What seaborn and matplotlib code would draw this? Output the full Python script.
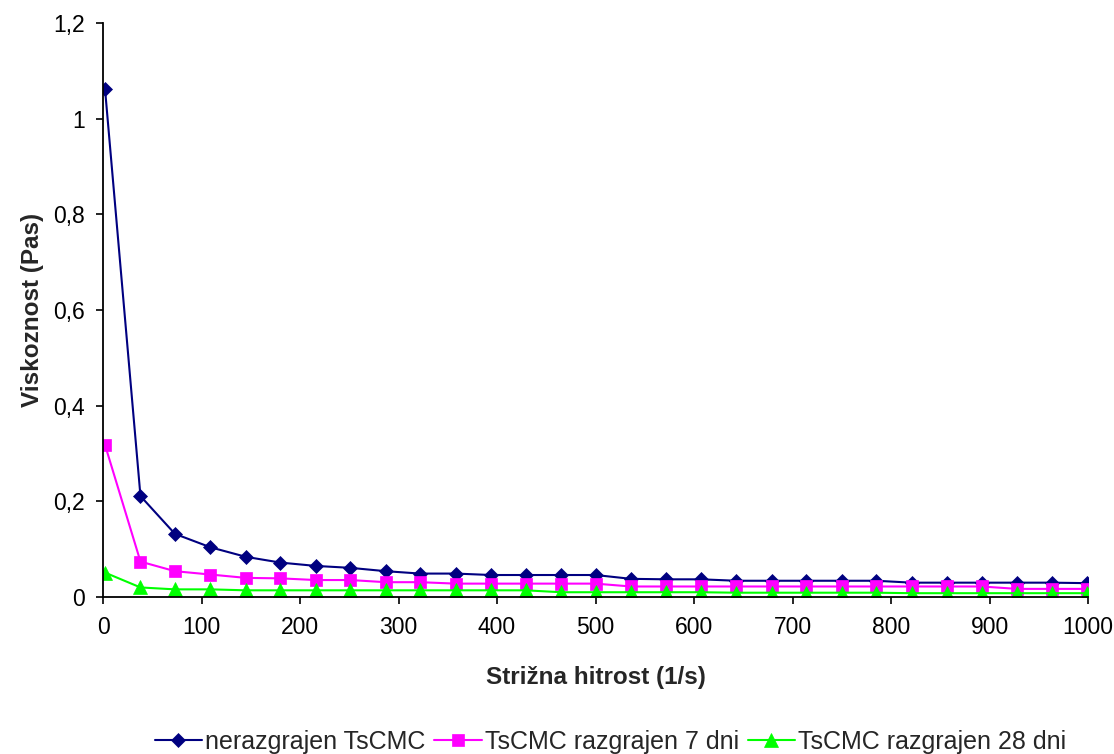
import numpy as np
import pandas as pd
import matplotlib
matplotlib.use("Agg")
import matplotlib.pyplot as plt
from matplotlib.ticker import FuncFormatter, MultipleLocator
import seaborn as sns

# Shear rate (1/s)
shear_rate = [2, 38, 73, 109, 145, 180, 216, 251, 287, 322, 358, 394, 429, 465, 500,
              536, 572, 607, 643, 679, 714, 750, 785, 821, 857, 892, 928, 963, 999]

# Viscosity (Pa s) for each sample
visc_fresh = [1.062, 0.211, 0.132, 0.104, 0.084, 0.072, 0.065, 0.061, 0.054, 0.049,
              0.049, 0.046, 0.046, 0.046, 0.046, 0.038, 0.037, 0.037, 0.034, 0.034,
              0.034, 0.034, 0.034, 0.030, 0.030, 0.030, 0.030, 0.030, 0.029]
visc_7d = [0.318, 0.074, 0.054, 0.047, 0.040, 0.039, 0.0355, 0.0355, 0.031, 0.031,
           0.028, 0.028, 0.028, 0.028, 0.028, 0.022, 0.022, 0.022, 0.022, 0.022,
           0.022, 0.022, 0.022, 0.022, 0.022, 0.022, 0.017, 0.017, 0.017]
visc_28d = [0.051, 0.020, 0.016, 0.016, 0.014, 0.014, 0.014, 0.014, 0.014, 0.014,
            0.014, 0.014, 0.014, 0.010, 0.010, 0.010, 0.010, 0.010, 0.009, 0.009,
            0.009, 0.009, 0.009, 0.008, 0.008, 0.008, 0.008, 0.008, 0.008]

series_names = ["nerazgrajen TsCMC", "TsCMC razgrajen 7 dni", "TsCMC razgrajen 28 dni"]
series_colors = ["#000080", "#FF00FF", "#00FF00"]
series_markers = ["D", "s", "^"]
series_msize = [7.5, 8, 9.5]

x_label = "Strižna hitrost (1/s)"
y_label = "Viskoznost (Pas)"

sns.set_style("white")
plt.rcParams["font.family"] = ["Liberation Sans", "DejaVu Sans"]

frames = []
for name, vals in zip(series_names, [visc_fresh, visc_7d, visc_28d]):
    frames.append(pd.DataFrame({"x": shear_rate, "y": vals, "sample": name}))
df = pd.concat(frames, ignore_index=True)

fig = plt.figure(figsize=(11.14, 7.54), dpi=100)
ax = fig.add_axes([0.0925, 0.2082, 0.8842, 0.7613])

for name, col, mk, ms in zip(series_names, series_colors, series_markers, series_msize):
    sns.lineplot(data=df[df["sample"] == name], x="x", y="y", ax=ax, color=col,
                 marker=mk, markersize=ms, markeredgecolor=col, markeredgewidth=0.5,
                 linewidth=1.5, label=name, sort=False)

ax.set_xlim(0, 1000)
ax.set_ylim(0, 1.2)
ax.xaxis.set_major_locator(MultipleLocator(100))
ax.yaxis.set_major_locator(MultipleLocator(0.2))
ax.yaxis.set_major_formatter(
    FuncFormatter(lambda v, p: f"{v:.1f}".rstrip("0").rstrip(".").replace(".", ",")))

for side in ["top", "right"]:
    ax.spines[side].set_visible(False)
for side in ["left", "bottom"]:
    ax.spines[side].set_color("black")
    ax.spines[side].set_linewidth(1.3)
ax.tick_params(axis="both", which="major", direction="out", length=5, width=1.2,
               color="black", labelsize=16.5, labelcolor="black",
               left=True, bottom=True)
ax.tick_params(axis="x", pad=9)
ax.tick_params(axis="y", pad=8)

ax.set_xlabel(x_label, fontsize=17.5, fontweight="bold")
ax.set_ylabel(y_label, fontsize=17.5, fontweight="bold")
ax.xaxis.set_label_coords(0.5, -0.14)
ax.xaxis.label.set_verticalalignment("center")
ax.yaxis.set_label_coords(-0.072, 0.5)
ax.yaxis.label.set_verticalalignment("center")

ax.legend(loc="center", bbox_to_anchor=(0.515, -0.2526), ncol=3, frameon=False,
          fontsize=18, handlelength=1.9, handletextpad=0.12, columnspacing=0.35,
          borderaxespad=0, borderpad=0)

fig.savefig("out.png", dpi=100, facecolor="white")
